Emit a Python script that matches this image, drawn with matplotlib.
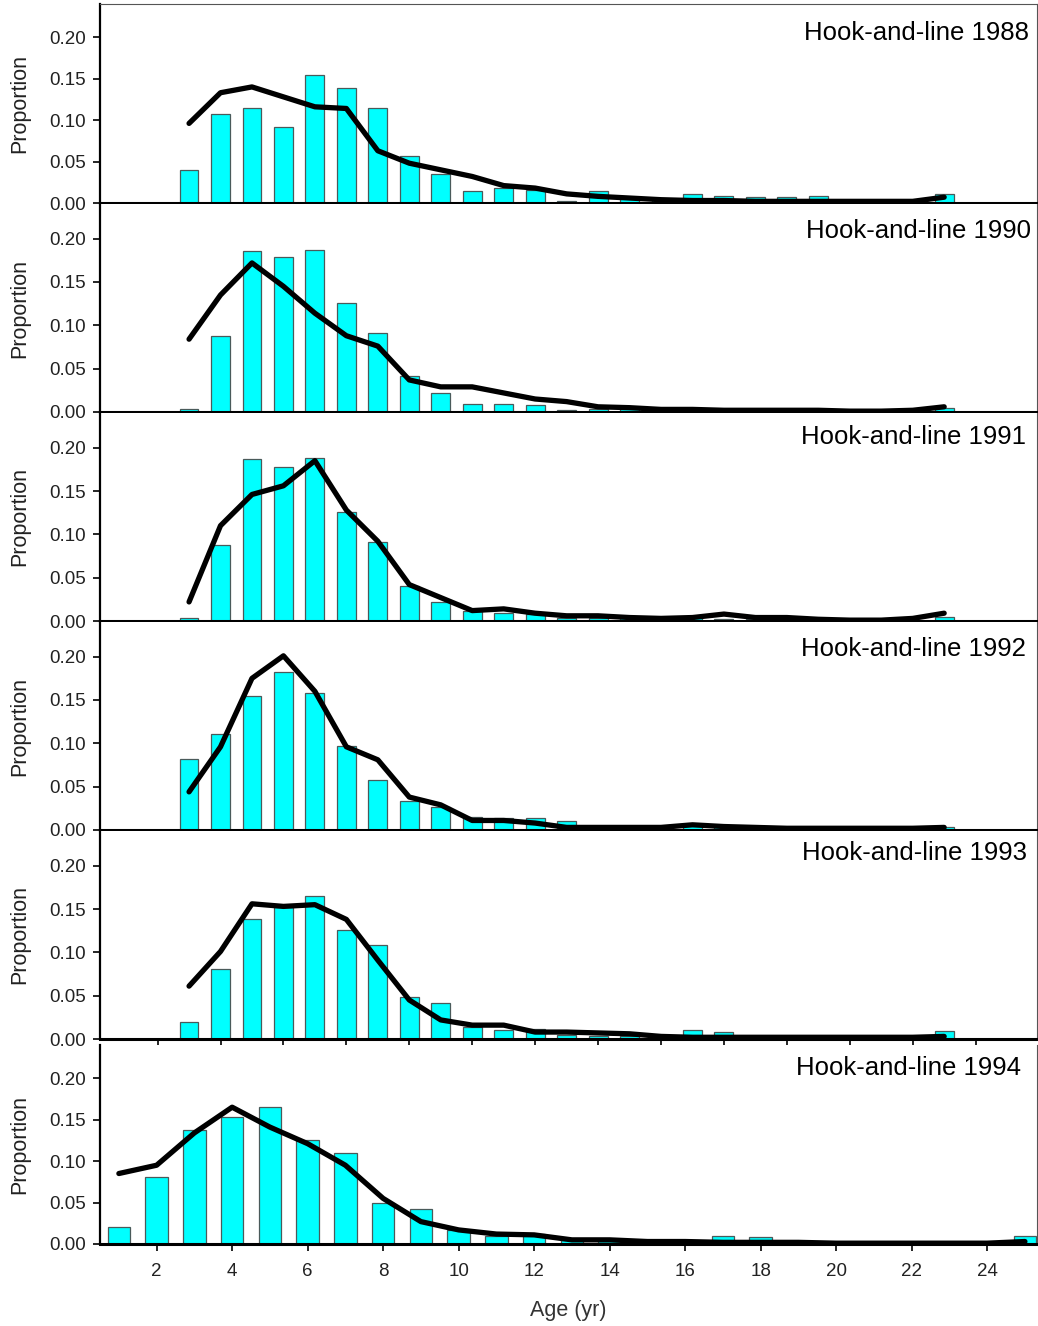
import matplotlib
matplotlib.use("Agg")
import matplotlib.pyplot as plt
import numpy as np

plt.rcParams['font.family'] = ['Liberation Sans', 'DejaVu Sans']

# age classes (1..25) and panel titles
ages = np.arange(1, 26)
titles = ['Hook-and-line 1988', 'Hook-and-line 1990', 'Hook-and-line 1991',
          'Hook-and-line 1992', 'Hook-and-line 1993', 'Hook-and-line 1994']

# observed proportions (bars)
obs_1988 = [0.040, 0.107, 0.115, 0.092, 0.154, 0.139, 0.114, 0.057, 0.035, 0.015,
            0.018, 0.016, 0.002, 0.015, 0.006, 0.004, 0.011, 0.008, 0.007, 0.007,
            0.008, 0.0, 0.0, 0.0, 0.011]
obs_1990 = [0.003, 0.088, 0.186, 0.179, 0.187, 0.126, 0.091, 0.041, 0.022, 0.009,
            0.009, 0.008, 0.002, 0.004, 0.004, 0.002, 0.002, 0.001, 0.001, 0.001,
            0.001, 0.0, 0.0, 0.0, 0.005]
obs_1991 = [0.003, 0.088, 0.187, 0.178, 0.188, 0.126, 0.091, 0.040, 0.022, 0.011,
            0.009, 0.008, 0.003, 0.004, 0.004, 0.003, 0.004, 0.002, 0.002, 0.001,
            0.001, 0.0, 0.0, 0.0, 0.005]
obs_1992 = [0.082, 0.111, 0.155, 0.182, 0.158, 0.097, 0.058, 0.034, 0.026, 0.015,
            0.014, 0.014, 0.010, 0.003, 0.002, 0.004, 0.005, 0.003, 0.002, 0.002,
            0.002, 0.0, 0.0, 0.0, 0.004]
obs_1993 = [0.020, 0.081, 0.138, 0.152, 0.165, 0.126, 0.109, 0.049, 0.041, 0.014,
            0.010, 0.011, 0.005, 0.004, 0.003, 0.003, 0.010, 0.008, 0.004, 0.002,
            0.001, 0.0, 0.0, 0.0, 0.009]
obs_1994 = [0.020, 0.081, 0.138, 0.153, 0.165, 0.126, 0.110, 0.049, 0.042, 0.017,
            0.010, 0.012, 0.005, 0.004, 0.003, 0.004, 0.010, 0.008, 0.003, 0.001,
            0.001, 0.0, 0.0, 0.0, 0.010]

# predicted proportions (lines)
pred_1988 = [0.096, 0.133, 0.140, 0.128, 0.116, 0.114, 0.063, 0.048, 0.040, 0.032,
             0.021, 0.018, 0.011, 0.008, 0.006, 0.004, 0.003, 0.003, 0.002, 0.002,
             0.002, 0.002, 0.002, 0.002, 0.007]
pred_1990 = [0.084, 0.135, 0.172, 0.145, 0.114, 0.088, 0.076, 0.037, 0.029, 0.029,
             0.022, 0.015, 0.012, 0.006, 0.005, 0.003, 0.003, 0.002, 0.002, 0.002,
             0.002, 0.001, 0.001, 0.002, 0.006]
pred_1991 = [0.022, 0.110, 0.146, 0.156, 0.185, 0.128, 0.092, 0.042, 0.027, 0.012,
             0.014, 0.009, 0.006, 0.006, 0.004, 0.003, 0.004, 0.008, 0.004, 0.004,
             0.002, 0.001, 0.001, 0.003, 0.009]
pred_1992 = [0.044, 0.096, 0.175, 0.201, 0.160, 0.096, 0.081, 0.038, 0.029, 0.011,
             0.011, 0.008, 0.003, 0.003, 0.003, 0.003, 0.006, 0.004, 0.003, 0.002,
             0.002, 0.002, 0.002, 0.002, 0.003]
pred_1993 = [0.061, 0.101, 0.156, 0.153, 0.155, 0.138, 0.091, 0.045, 0.022, 0.016,
             0.016, 0.008, 0.008, 0.007, 0.006, 0.003, 0.002, 0.002, 0.002, 0.002,
             0.002, 0.002, 0.002, 0.002, 0.003]
pred_1994 = [0.085, 0.095, 0.134, 0.165, 0.141, 0.121, 0.095, 0.055, 0.027, 0.017,
             0.012, 0.011, 0.005, 0.005, 0.003, 0.003, 0.002, 0.002, 0.002, 0.001,
             0.001, 0.001, 0.001, 0.001, 0.003]

observed = [obs_1988, obs_1990, obs_1991, obs_1992, obs_1993, obs_1994]
predicted = [pred_1988, pred_1990, pred_1991, pred_1992, pred_1993, pred_1994]

W, H = 1038, 1326
fig = plt.figure(figsize=(W / 100, H / 100), dpi=100)

# panel boxes in pixels: (left, top, right, bottom)
boxes = [(100, 4, 1037, 203), (100, 204, 1037, 412), (100, 413, 1037, 621),
         (100, 622, 1037, 830), (100, 831, 1037, 1039), (100, 1045, 1037, 1244)]
# title anchor (x, baseline y) in axes coords
title_pos = [(0.9915, 0.819), (0.9936, 0.837), (0.988, 0.851),
             (0.988, 0.837), (0.989, 0.861), (0.9826, 0.849)]

for i in range(6):
    l, t, r, b = boxes[i]
    ax = fig.add_axes([l / W, 1 - b / H, (r - l) / W, (b - t) / H])
    ax.bar(ages, observed[i], width=0.6, color='#00FFFF', edgecolor='#4a5a5a',
           linewidth=0.9, zorder=2)
    ax.plot(ages, predicted[i], color='black', linewidth=3.8,
            solid_capstyle='round', solid_joinstyle='round', zorder=3)
    ax.set_ylim(0, 0.24)
    ax.set_yticks([0, 0.05, 0.10, 0.15, 0.20])
    ax.set_yticklabels(['0.00', '0.05', '0.10', '0.15', '0.20'])
    ax.tick_params(axis='y', direction='out', length=5, width=1.2, pad=5,
                   labelsize=13.5, labelcolor='#222222')
    ax.set_ylabel('Proportion', fontsize=15.5, color='#222222')
    ax.yaxis.set_label_coords(-0.0745, 0.5)

    if i < 5:
        ax.set_xlim(-1.83, 27.95)
    else:
        ax.set_xlim(0.5, 25.32)

    if i == 4:
        ax.set_xticks(np.arange(0, 27, 2))
        ax.tick_params(axis='x', direction='out', length=5, width=1.2,
                       labelbottom=False)
    elif i == 5:
        ax.set_xticks(np.arange(2, 25, 2))
        ax.tick_params(axis='x', direction='out', length=5, width=1.2, pad=9,
                       labelsize=13.5, labelcolor='#222222')
        ax.set_xlabel('Age (yr)', fontsize=15.5, color='#333333', labelpad=14)
    else:
        ax.set_xticks([])

    for s in ['left', 'bottom']:
        ax.spines[s].set_color('black')
    ax.spines['left'].set_linewidth(1.6)
    ax.spines['bottom'].set_linewidth(2.2)
    ax.spines['right'].set_color('#555555')
    ax.spines['right'].set_linewidth(0.8)
    ax.spines['top'].set_color('#555555')
    ax.spines['top'].set_linewidth(0.8)
    if i > 0:
        ax.spines['top'].set_visible(False)
    ax.spines['bottom'].set_zorder(4)

    tx, ty = title_pos[i]
    ax.text(tx, ty, titles[i], transform=ax.transAxes, ha='right',
            va='baseline', fontsize=18.5, color='black')

fig.savefig('out.png', dpi=100)
